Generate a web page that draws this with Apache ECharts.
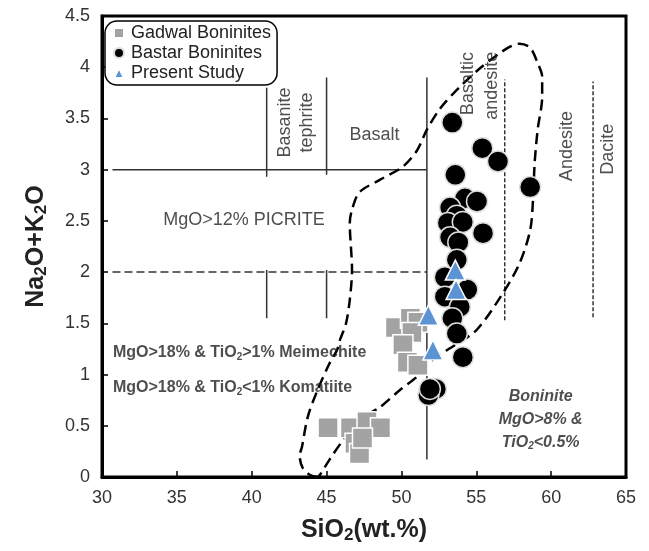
<!DOCTYPE html>
<html>
<head>
<meta charset="utf-8">
<script src="https://cdn.jsdelivr.net/npm/echarts@6/dist/echarts.min.js"></script>
<style>
  html, body { margin: 0; padding: 0; background: #fff; }
  #chart { width: 649px; height: 551px; }
</style>
</head>
<body>
<div id="chart"></div>
<script>
// 数据：SiO2 (x) / Na2O+K2O (y)
var gadwal = [
    [45.1, 0.48], [46.6, 0.48], [47.7, 0.54], [48.6, 0.48], [46.9, 0.33], [47.2, 0.23], [47.4, 0.38],
    [49.6, 1.46], [50.6, 1.55], [51.1, 1.51], [50.7, 1.41], [50.1, 1.29], [50.4, 1.12], [51.1, 1.09]
];
var bastar = [
    [53.4, 3.46], [55.4, 3.21], [56.45, 3.08], [53.6, 2.95], [58.6, 2.83], [54.25, 2.72], [55.05, 2.69],
    [53.25, 2.63], [53.7, 2.55], [53.1, 2.48], [54.1, 2.49], [53.25, 2.34], [53.8, 2.29], [55.45, 2.38],
    [53.7, 2.12], [52.9, 1.95], [54.4, 1.83], [52.9, 1.76], [53.9, 1.66], [53.4, 1.55], [53.7, 1.4],
    [54.1, 1.17], [52.3, 0.86], [51.8, 0.8], [51.9, 0.86]
];
var present = [[53.6, 2.02], [53.65, 1.83], [51.8, 1.58], [52.1, 1.24]];

// 分区边界
var solidLines = [
    [[30.7, 3], [51.7, 3]],
    [[41, 2.93], [41, 3.8]],
    [[45, 2.95], [45, 3.9]],
    [[51.7, 0.17], [51.7, 3.9]],
    [[41, 1.55], [41, 2.02]],
    [[45, 1.55], [45, 2.02]]
];
var dashedLine = [[30.7, 2], [51.7, 2]];
var dottedLines = [
    [[56.9, 1.53], [56.9, 3.88]],
    [[62.8, 1.56], [62.8, 3.86]]
];
// 玻安岩区域（虚线圈）
var boniniteField = [
    [44.4, 0], [43.9, 0.02], [43.4, 0.09], [43.2, 0.21], [43.35, 0.29], [43.75, 0.59], [44.4, 0.85],
    [45.2, 1.11], [45.7, 1.24], [45.9, 1.34], [46.3, 1.5], [46.55, 1.73], [46.7, 2.02], [46.55, 2.48],
    [46.7, 2.61], [47.2, 2.78], [48.55, 2.9], [50.1, 3.03], [51.05, 3.19], [51.7, 3.39], [52.6, 3.6],
    [53.85, 3.8], [55.25, 3.99], [56.4, 4.12], [57.25, 4.2], [57.9, 4.23], [58.6, 4.19], [59.1, 4.04],
    [59.4, 3.91], [59.4, 3.71], [59.1, 3.39], [58.9, 3.07], [58.8, 2.73], [58.6, 2.41], [57.9, 2.09],
    [56.8, 1.8], [55.05, 1.44], [53.6, 1.29], [52.05, 1.14], [51.05, 0.98], [49.9, 0.85], [48.55, 0.68],
    [47.2, 0.56], [46.1, 0.36], [45.2, 0.17], [44.55, 0.02], [44.4, 0]
];

// 分区文字
var zoneNames = ['Basanite', 'tephrite', 'Basalt', 'Basaltic', 'andesite', 'Andesite', 'Dacite'];
var zonePos = [[42.2, 3.46], [43.7, 3.46], [48.2, 3.34], [54.45, 3.84], [56.05, 3.82], [61.05, 3.23], [63.8, 3.2]];
var zoneRotate = [90, 90, 0, 90, 90, 90, 90];

var xTicks = { min: 30, max: 65, interval: 5 };
var yTicks = { min: 0, max: 4.5, interval: 0.5 };

var FONT = 'Liberation Sans';
var TXT = '#222';

function lineSeries(points, type, dash, width, color) {
    return {
        type: 'line',
        data: points,
        symbol: 'none',
        silent: true,
        z: 1,
        lineStyle: { color: color || '#333', width: width || 1.5, type: dash ? dash : type }
    };
}

var series = [];
solidLines.forEach(function (seg) {
    series.push(lineSeries(seg, 'solid'));
});
series.push(lineSeries(dashedLine, 'dashed', [8, 4]));
dottedLines.forEach(function (seg) {
    series.push(lineSeries(seg, 'dashed', [4, 2], 1.5));
});
var field = lineSeries(boniniteField, 'dashed', [11, 6], 2.5, '#000');
field.smooth = 0.3;
series.push(field);

// 文字标注
var subRich = function (italic) {
    return {
        b: { fontSize: 16, fontWeight: 'bold', fontStyle: italic ? 'italic' : 'normal', color: TXT, fontFamily: FONT, lineHeight: 23 },
        s: { fontSize: 10, fontWeight: 'bold', fontStyle: italic ? 'italic' : 'normal', color: TXT, fontFamily: FONT, lineHeight: 23, padding: [8, 0, 0, 0] }
    };
};
series.push({
    type: 'scatter',
    silent: true,
    symbolSize: 1,
    itemStyle: { color: 'transparent' },
    z: 2,
    data: zoneNames.map(function (name, i) {
        return {
            name: name,
            value: zonePos[i],
            label: {
                show: true, position: 'inside', rotate: zoneRotate[i],
                formatter: '{b}', color: TXT, fontSize: 18, fontFamily: FONT
            }
        };
    }).concat([
        {
            name: 'picrite', value: [34.05, 2.51],
            label: { show: true, position: 'right', distance: 0, formatter: 'MgO>12% PICRITE',
                color: TXT, fontSize: 18, fontFamily: FONT }
        },
        {
            name: 'meimechite', value: [30.7, 1.21],
            label: { show: true, position: 'right', distance: 0,
                formatter: '{b|MgO>18% & TiO}{s|2}{b|>1% Meimechite}', rich: subRich(false) }
        },
        {
            name: 'komatiite', value: [30.7, 0.87],
            label: { show: true, position: 'right', distance: 0,
                formatter: '{b|MgO>18% & TiO}{s|2}{b|<1% Komatiite}', rich: subRich(false) }
        },
        {
            name: 'boninite', value: [59.3, 0.56],
            label: { show: true, position: 'inside',
                formatter: '{b|Boninite}\n{b|MgO>8% &}\n{b|TiO}{s|2}{b|<0.5%}', rich: subRich(true) }
        }
    ])
});

series.push({
    name: 'Gadwal Boninites', type: 'scatter', data: gadwal, symbol: 'rect', symbolSize: 20, z: 3,
    itemStyle: { color: '#a3a3a3', borderColor: '#fff', borderWidth: 1.5, opacity: 1 }
});
series.push({
    name: 'Bastar Boninites', type: 'scatter', data: bastar, symbol: 'circle', symbolSize: 21, z: 4,
    itemStyle: { color: '#000', borderColor: '#ddd', borderWidth: 1.5, opacity: 1 }
});
series.push({
    name: 'Present Study', type: 'scatter', data: present, symbol: 'triangle', symbolSize: 20, z: 5,
    itemStyle: { color: '#5b93d3', borderColor: '#fff', borderWidth: 1.5, opacity: 1 }
});

var option = {
    animation: false,
    backgroundColor: '#fff',
    grid: {
        left: 102, top: 16, right: 23, bottom: 74,
        show: true, borderColor: '#000', borderWidth: 3, backgroundColor: 'transparent'
    },
    legend: {
        orient: 'vertical',
        left: 105, top: 21,
        padding: [3, 6, 3, 8],
        itemGap: 2,
        itemWidth: 10, itemHeight: 10,
        backgroundColor: '#fff',
        borderColor: '#000', borderWidth: 1.5, borderRadius: 12,
        z: 10,
        data: [
            { name: 'Gadwal Boninites', icon: 'rect' },
            { name: 'Bastar Boninites', icon: 'circle' },
            { name: 'Present Study', icon: 'triangle' }
        ],
        textStyle: { fontSize: 18, color: TXT, fontFamily: FONT, lineHeight: 18, padding: [0, 0, 0, 2] }
    },
    xAxis: {
        type: 'value',
        min: xTicks.min, max: xTicks.max, interval: xTicks.interval,
        name: '{a|SiO}{s|2}{a|(wt.%)}',
        nameLocation: 'middle', nameGap: 40,
        nameTextStyle: {
            rich: {
                a: { fontSize: 25, fontWeight: 'bold', color: TXT, fontFamily: FONT },
                s: { fontSize: 17, fontWeight: 'bold', color: TXT, fontFamily: FONT, padding: [10, 0, 0, 0] }
            }
        },
        splitLine: { show: false },
        axisLine: { lineStyle: { color: '#000', width: 3 } },
        axisTick: { inside: true, length: 6, lineStyle: { color: '#000', width: 1.5 } },
        axisLabel: { fontSize: 18, color: '#333', fontFamily: FONT, margin: 12 }
    },
    yAxis: {
        type: 'value',
        min: yTicks.min, max: yTicks.max, interval: yTicks.interval,
        name: '{a|Na}{s|2}{a|O+K}{s|2}{a|O}',
        nameLocation: 'middle', nameGap: 52, nameRotate: 90,
        nameTextStyle: {
            rich: {
                a: { fontSize: 25, fontWeight: 'bold', color: TXT, fontFamily: FONT },
                s: { fontSize: 17, fontWeight: 'bold', color: TXT, fontFamily: FONT, padding: [10, 0, 0, 0] }
            }
        },
        splitLine: { show: false },
        axisLine: { lineStyle: { color: '#000', width: 3 } },
        axisTick: { inside: true, length: 6, lineStyle: { color: '#000', width: 1.5 } },
        axisLabel: { fontSize: 18, color: '#333', fontFamily: FONT, margin: 12 }
    },
    series: series
};

var mychart = echarts.init(document.getElementById('chart'));
mychart.setOption(option);
</script>
</body>
</html>
